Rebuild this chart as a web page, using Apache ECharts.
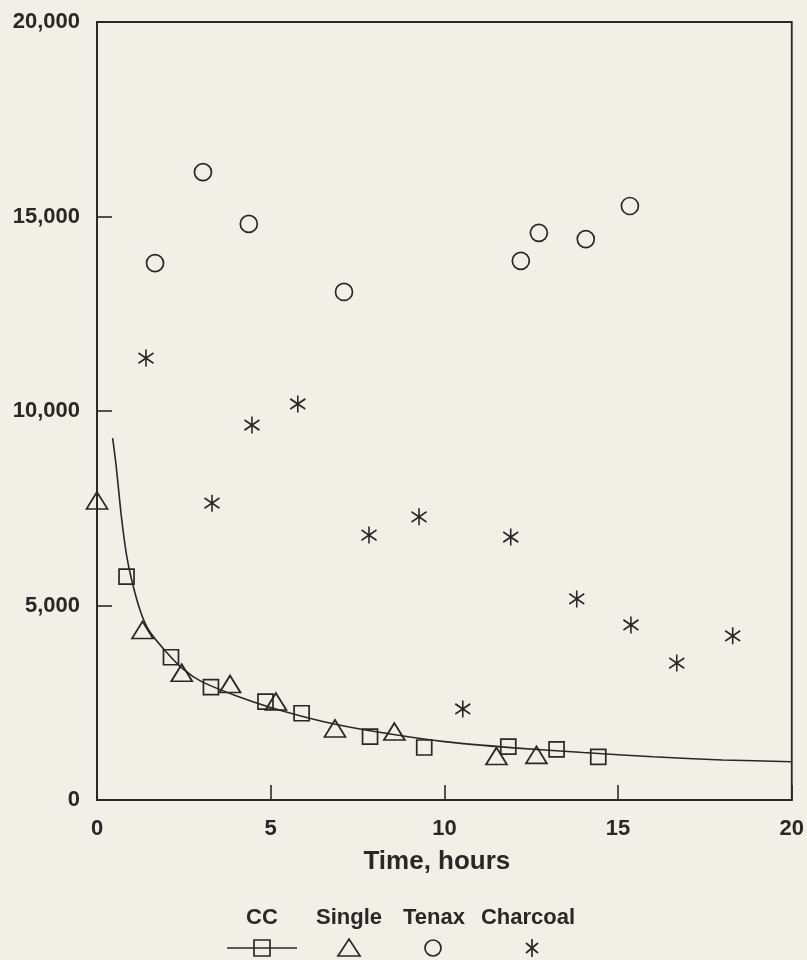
<!DOCTYPE html>
<html>
<head>
<meta charset="utf-8">
<script src="https://cdn.jsdelivr.net/npm/echarts@6/dist/echarts.min.js"></script>
<style>
  html, body { margin: 0; padding: 0; background: #f2efe7; }
  #chart { width: 807px; height: 960px; }
</style>
</head>
<body>
<div id="chart"></div>
<script>
// values (time in hours, response)
var ccX = [0.85, 2.13, 3.28, 4.85, 5.89, 7.86, 9.42, 11.84, 13.23, 14.43];
var ccY = [5740, 3670, 2900, 2530, 2230, 1630, 1350, 1370, 1300, 1110];

var singleX = [0, 1.31, 2.44, 3.83, 5.15, 6.85, 8.56, 11.5, 12.65];
var singleY = [7700, 4370, 3270, 2980, 2530, 1840, 1760, 1130, 1160];

var tenaxX = [1.67, 3.05, 4.37, 7.11, 12.2, 12.72, 14.07, 15.34];
var tenaxY = [13800, 16140, 14810, 13060, 13860, 14580, 14420, 15270];

var charcoalX = [1.41, 3.31, 4.46, 5.78, 7.83, 9.27, 10.53, 11.91, 13.81, 15.37, 16.69, 18.3];
var charcoalY = [11360, 7630, 9640, 10180, 6810, 7280, 2340, 6760, 5170, 4500, 3520, 4220];

// fitted curve drawn through the CC points (traced)
var curveX = [0.45, 0.55, 0.7, 0.85, 1.0, 1.25, 1.5, 2.0, 2.5, 3.0, 4.0, 5.0, 6.5, 8.0, 10.0, 12.0, 14.0, 16.0, 18.0, 20];
var curveY = [9300, 8600, 7300, 6300, 5650, 4850, 4350, 3800, 3350, 3050, 2680, 2380, 2020, 1760, 1500, 1340, 1220, 1110, 1030, 985];

var xTicks = [0, 5, 10, 15, 20];
var yTicks = [0, 5000, 10000, 15000, 20000];
var legendNames = ["CC", "Single", "Tenax", "Charcoal"];

function pairs(xs, ys) {
  return xs.map(function (x, i) { return [x, ys[i]]; });
}

var ink = "#2a2826";
var star = "path://M10,0L10,20M3,4L17,16M3,16L17,4";
var hollow = { color: "rgba(0,0,0,0)", borderColor: ink, borderWidth: 1.7, opacity: 1 };

var chart = echarts.init(document.getElementById("chart"));

var option = {
  backgroundColor: "#f2efe7",
  animation: false,
  grid: {
    left: 97, right: 15, top: 22, bottom: 160,
    show: true, borderColor: ink, borderWidth: 1.8,
    backgroundColor: "transparent"
  },
  xAxis: {
    type: "value",
    min: xTicks[0], max: xTicks[xTicks.length - 1], interval: 5,
    name: "Time, hours",
    nameLocation: "middle",
    nameGap: 49,
    nameTextStyle: {
      fontFamily: "Liberation Sans", fontWeight: "bold", fontSize: 26,
      color: ink, padding: [0, 15, 0, 0]
    },
    axisLine: { lineStyle: { color: ink, width: 1.8 } },
    axisTick: { inside: true, length: 15, lineStyle: { color: ink, width: 1.6 } },
    axisLabel: {
      margin: 18, fontFamily: "Liberation Sans", fontWeight: "bold",
      fontSize: 22, color: ink
    },
    splitLine: { show: false }
  },
  yAxis: {
    type: "value",
    min: yTicks[0], max: yTicks[yTicks.length - 1], interval: 5000,
    axisLine: { show: true, lineStyle: { color: ink, width: 1.8 } },
    axisTick: { show: true, inside: true, length: 15, lineStyle: { color: ink, width: 1.6 } },
    axisLabel: {
      margin: 17, fontFamily: "Liberation Sans", fontWeight: "bold",
      fontSize: 22, color: ink,
      formatter: function (v) { return v.toLocaleString("en-US"); }
    },
    splitLine: { show: false }
  },
  series: [
    {
      name: "CC fit",
      type: "line",
      data: pairs(curveX, curveY),
      smooth: 0.25,
      showSymbol: false,
      lineStyle: { color: ink, width: 1.6 }
    },
    {
      name: legendNames[0], type: "scatter", clip: false,
      data: pairs(ccX, ccY),
      symbol: "rect", symbolSize: 15, itemStyle: hollow
    },
    {
      name: legendNames[1], type: "scatter", clip: false,
      data: pairs(singleX, singleY),
      symbol: "triangle", symbolSize: [21, 17], itemStyle: hollow
    },
    {
      name: legendNames[2], type: "scatter", clip: false,
      data: pairs(tenaxX, tenaxY),
      symbol: "circle", symbolSize: 17, itemStyle: hollow
    },
    {
      name: legendNames[3], type: "scatter", clip: false,
      data: pairs(charcoalX, charcoalY),
      symbol: star, symbolSize: [15, 17], itemStyle: hollow
    }
  ],
  graphic: [
    // legend: names on top, marks underneath
    { type: "text", x: 262, y: 918, style: { text: legendNames[0], align: "center", verticalAlign: "middle", fontFamily: "Liberation Sans", fontWeight: "bold", fontSize: 22, fill: ink } },
    { type: "text", x: 349, y: 918, style: { text: legendNames[1], align: "center", verticalAlign: "middle", fontFamily: "Liberation Sans", fontWeight: "bold", fontSize: 22, fill: ink } },
    { type: "text", x: 434, y: 918, style: { text: legendNames[2], align: "center", verticalAlign: "middle", fontFamily: "Liberation Sans", fontWeight: "bold", fontSize: 22, fill: ink } },
    { type: "text", x: 528, y: 918, style: { text: legendNames[3], align: "center", verticalAlign: "middle", fontFamily: "Liberation Sans", fontWeight: "bold", fontSize: 22, fill: ink } },
    { type: "line", shape: { x1: 227, y1: 948, x2: 297, y2: 948 }, style: { stroke: ink, lineWidth: 1.6 } },
    { type: "rect", shape: { x: 254, y: 940, width: 16, height: 16 }, style: { fill: "none", stroke: ink, lineWidth: 1.7 } },
    { type: "polygon", shape: { points: [[338, 956], [360, 956], [349, 939]] }, style: { fill: "none", stroke: ink, lineWidth: 1.7 } },
    { type: "circle", shape: { cx: 433, cy: 948, r: 8 }, style: { fill: "none", stroke: ink, lineWidth: 1.7 } },
    { type: "line", shape: { x1: 532, y1: 939, x2: 532, y2: 957 }, style: { stroke: ink, lineWidth: 1.7 } },
    { type: "line", shape: { x1: 526, y1: 943, x2: 538, y2: 953 }, style: { stroke: ink, lineWidth: 1.7 } },
    { type: "line", shape: { x1: 526, y1: 953, x2: 538, y2: 943 }, style: { stroke: ink, lineWidth: 1.7 } }
  ]
};

chart.setOption(option);
</script>
</body>
</html>
